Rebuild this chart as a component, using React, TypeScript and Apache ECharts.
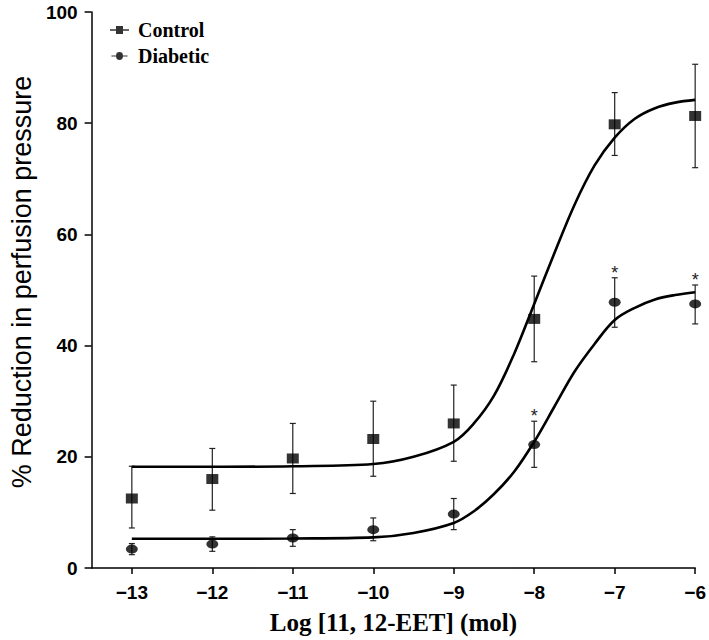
import React, { useEffect, useRef } from 'react';
import * as echarts from 'echarts';

// Dose (log mol)
const doses = [-13, -12, -11, -10, -9, -8, -7, -6];

// Control group: mean and error bar limits
const controlMean = [12.5, 16.0, 19.7, 23.2, 26.0, 44.8, 79.8, 81.3];
const controlLow = [7.2, 10.4, 13.4, 16.5, 19.2, 37.1, 74.2, 72.0];
const controlHigh = [18.3, 21.5, 26.0, 30.0, 32.9, 52.5, 85.5, 90.6];

// Diabetic group: mean and error bar limits
const diabeticMean = [3.4, 4.3, 5.4, 6.9, 9.7, 22.2, 47.8, 47.5];
const diabeticLow = [2.4, 3.0, 3.9, 4.9, 6.9, 18.1, 43.3, 43.9];
const diabeticHigh = [4.4, 5.6, 6.9, 9.0, 12.5, 26.4, 52.2, 50.9];
const diabeticSignificant = [false, false, false, false, false, true, true, true];

// Fitted curves
const fitX = [-13, -12, -11, -10, -9.5, -9, -8.75, -8.5, -8.25, -8, -7.75, -7.5, -7.25, -7, -6.75, -6.5, -6.25, -6];
const controlFitY = [18.2, 18.2, 18.3, 18.7, 20.0, 22.7, 26.0, 31.0, 38.5, 47.5, 56.6, 65.3, 72.4, 77.4, 80.8, 82.7, 83.7, 84.2];
const diabeticFitY = [5.25, 5.25, 5.3, 5.5, 6.3, 8.1, 10.2, 13.3, 17.3, 22.7, 29.0, 35.3, 40.3, 44.6, 46.8, 48.3, 49.1, 49.6];

// Axis ticks
const xTicks = [-13, -12, -11, -10, -9, -8, -7, -6];
const yTicks = [0, 20, 40, 60, 80, 100];

const ellipsePath = 'path://M-1,0a1,1 0 1,0 2,0a1,1 0 1,0 -2,0Z';

export default function App() {
  const ref = useRef<HTMLDivElement>(null);

  useEffect(() => {
    document.body.style.margin = '0';
    const chart = echarts.init(ref.current!, null, { renderer: 'svg' });

    const errRender = (sig?: boolean[]) => (params: any, api: any) => {
      const x = api.value(0);
      const lo = api.value(1);
      const hi = api.value(2);
      const pLo = api.coord([x, lo]);
      const pHi = api.coord([x, hi]);
      const cw = 3;
      const style = { stroke: '#222', lineWidth: 1.2, fill: 'none' };
      const children: any[] = [
        { type: 'line', shape: { x1: pLo[0], y1: pLo[1], x2: pHi[0], y2: pHi[1] }, style },
        { type: 'line', shape: { x1: pLo[0] - cw, y1: pLo[1], x2: pLo[0] + cw, y2: pLo[1] }, style },
        { type: 'line', shape: { x1: pHi[0] - cw, y1: pHi[1], x2: pHi[0] + cw, y2: pHi[1] }, style },
      ];
      if (sig && sig[params.dataIndex]) {
        children.push({
          type: 'text',
          style: {
            text: '*',
            x: pHi[0],
            y: pHi[1] - 5,
            align: 'center',
            verticalAlign: 'middle',
            fontSize: 18,
            fontFamily: 'Liberation Sans',
            fill: '#222',
          },
        });
      }
      return { type: 'group', children };
    };

    const option: any = {
      animation: false,
      backgroundColor: '#fff',
      grid: { left: 76, top: 12, right: 13, bottom: 67 },
      legend: {
        orient: 'vertical',
        left: 105,
        top: 15,
        itemGap: 6,
        itemWidth: 19,
        itemHeight: 8,
        data: [
          { name: 'Control', icon: 'path://M0,3.2H6V0H13V3.2H19V4.8H13V8H6V4.8H0Z' },
          { name: 'Diabetic', icon: 'path://M0,3.3H5.5A4,4 0 0 1 13.5,3.3H19V4.7H13.5A4,4 0 0 1 5.5,4.7H0Z' },
        ],
        textStyle: {
          fontFamily: 'Liberation Serif',
          fontWeight: 'bold',
          fontSize: 20,
          color: '#000',
          padding: [0, 0, 0, 4],
        },
        itemStyle: { color: '#000' },
      },
      xAxis: {
        type: 'value',
        min: -13.5,
        max: -6,
        name: 'Log [11, 12-EET] (mol)',
        nameLocation: 'middle',
        nameGap: 42,
        nameTextStyle: {
          fontFamily: 'Liberation Serif',
          fontWeight: 'bold',
          fontSize: 25,
          color: '#000',
        },
        axisLine: { show: true, onZero: false, lineStyle: { color: '#000', width: 1.5 } },
        axisTick: { show: true, customValues: xTicks, length: 6, lineStyle: { color: '#000', width: 1.5 } },
        axisLabel: {
          customValues: xTicks,
          margin: 15,
          fontFamily: 'Liberation Sans',
          fontWeight: 'bold',
          fontSize: 19,
          color: '#000',
          formatter: (v: number) => String(v).replace('-', '\u2212'),
        },
        splitLine: { show: false },
      },
      yAxis: {
        type: 'value',
        min: 0,
        max: 100,
        interval: 20,
        name: '% Reduction in perfusion pressure',
        nameLocation: 'middle',
        nameGap: 48,
        nameTextStyle: {
          fontFamily: 'Liberation Sans',
          fontSize: 27,
          color: '#000',
          padding: [0, 0, 0, 16],
        },
        axisLine: { show: true, lineStyle: { color: '#000', width: 1.5 } },
        axisTick: { show: true, customValues: yTicks, length: 7, lineStyle: { color: '#000', width: 1.5 } },
        axisLabel: {
          customValues: yTicks,
          margin: 14,
          fontFamily: 'Liberation Sans',
          fontWeight: 'bold',
          fontSize: 19,
          color: '#000',
        },
        splitLine: { show: false },
      },
      series: [
        {
          name: 'Control error',
          type: 'custom',
          renderItem: errRender(),
          data: doses.map((d, i) => [d, controlLow[i], controlHigh[i]]),
          z: 2,
        },
        {
          name: 'Diabetic error',
          type: 'custom',
          renderItem: errRender(diabeticSignificant),
          data: doses.map((d, i) => [d, diabeticLow[i], diabeticHigh[i]]),
          z: 2,
        },
        {
          name: 'Control fit',
          type: 'line',
          data: fitX.map((x, i) => [x, controlFitY[i]]),
          smooth: 0.35,
          symbol: 'none',
          lineStyle: { color: '#000', width: 2.6 },
          z: 3,
        },
        {
          name: 'Diabetic fit',
          type: 'line',
          data: fitX.map((x, i) => [x, diabeticFitY[i]]),
          smooth: 0.35,
          symbol: 'none',
          lineStyle: { color: '#000', width: 2.6 },
          z: 3,
        },
        {
          name: 'Control',
          type: 'scatter',
          data: doses.map((d, i) => [d, controlMean[i]]),
          symbol: 'rect',
          symbolSize: [12, 10],
          itemStyle: { color: '#000' },
          z: 4,
        },
        {
          name: 'Diabetic',
          type: 'scatter',
          data: doses.map((d, i) => [d, diabeticMean[i]]),
          symbol: ellipsePath,
          symbolSize: [12, 9],
          itemStyle: { color: '#000' },
          z: 4,
        },
      ],
    };

    chart.setOption(option);
    return () => chart.dispose();
  }, []);

  return <div ref={ref} style={{ width: 709, height: 640 }} />;
}
